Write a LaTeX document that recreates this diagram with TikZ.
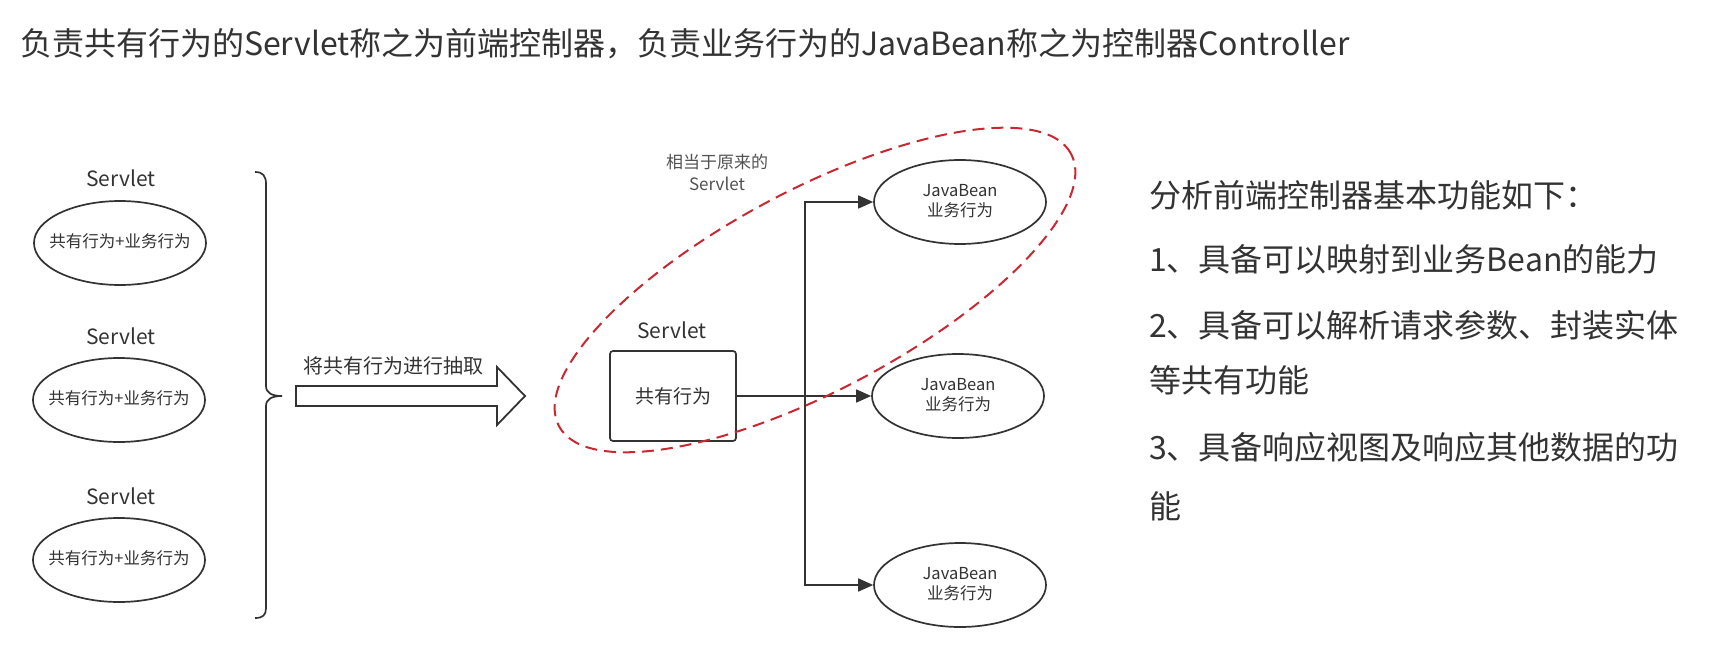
\documentclass[tikz,border=0pt]{standalone}
\usepackage{fontspec}
\setmainfont{Noto Sans CJK SC}
\usetikzlibrary{arrows.meta,shapes.geometric}
\definecolor{ink}{RGB}{51,51,51}
\definecolor{dashred}{RGB}{200,40,50}
% zero-width text box so an oval keeps its fixed size
\newcommand{\ovallabel}[1]{\makebox[0pt]{\begin{tabular}{@{}c@{}}#1\end{tabular}}}

\begin{document}
\begin{tikzpicture}[x=1pt,y=-1pt,
  every node/.style={inner sep=0pt,text=ink},
  oval/.style={draw=ink,ellipse,line width=1.7pt,minimum width=172pt,minimum height=84pt,
    font=\fontsize{16.5}{20}\selectfont},
  small/.style={font=\fontsize{21}{24}\selectfont},
  note/.style={font=\fontsize{17}{22}\selectfont,align=center,text=ink!85},
  big/.style={font=\fontsize{32}{36}\selectfont,anchor=west},
  conn/.style={draw=ink,line width=1.7pt,-{Triangle[length=15pt,width=13pt]}},
  reddash/.style={draw=dashred,line width=2pt,dash pattern=on 12pt off 7pt}
]
\fill[white] (0,0) rectangle (1716,669);
\useasboundingbox (0,0) rectangle (1716,669);

% heading
\node[big] (title) at (20,44) {负责共有行为的Servlet称之为前端控制器，负责业务行为的JavaBean称之为控制器Controller};

% three original servlets
\node[small] (s1) at (121,178) {Servlet};
\node[oval] (l1) at (120,243) {\ovallabel{共有行为+业务行为}};
\node[small] (s2) at (121,336) {Servlet};
\node[oval] (l2) at (119,400) {\ovallabel{共有行为+业务行为}};
\node[small] (s3) at (121,496) {Servlet};
\node[oval] (l3) at (119,560) {\ovallabel{共有行为+业务行为}};

% right brace grouping them
\draw[ink,line width=1.7pt]
  (255,172) .. controls (263,172) and (266,176) .. (266,184) -- (266,386)
  .. controls (266,393) and (272,396) .. (282,396)
  .. controls (272,396) and (266,399) .. (266,406) -- (266,608)
  .. controls (266,615) and (263,618) .. (255,618);

% hollow extraction arrow
\draw[ink,line width=1.8pt,line join=miter]
  (296,386) -- (497,386) -- (497,367) -- (525,396) -- (497,425) -- (497,406) -- (296,406) -- cycle;
\node[font=\fontsize{20}{24}\selectfont] (extract) at (393,366) {将共有行为进行抽取};

% front controller servlet
\node[small] (fs) at (672,330) {Servlet};
\node[draw=ink,line width=1.7pt,rounded corners=3pt,minimum width=126pt,minimum height=90pt,
      font=\fontsize{19}{22}\selectfont] (box) at (673,396) {共有行为};

% business beans
\node[oval] (jb1) at (960,202) {\ovallabel{JavaBean\\业务行为}};
\node[oval] (jb2) at (958,396) {\ovallabel{JavaBean\\业务行为}};
\node[oval] (jb3) at (960,585) {\ovallabel{JavaBean\\业务行为}};

\coordinate (split) at (805,396);
\draw[conn] (box.east) -- (jb2.west);
\draw[conn] (split) |- (jb1.west);
\draw[conn] (split) |- (jb3.west);

% dashed outline around the servlet and the first bean
\draw[reddash,rotate around={28:(815,290)}] (815,290) ellipse [x radius=290pt,y radius=100pt];
\node[note] (same) at (717,172) {相当于原来的\\Servlet};

% feature list
\node[big] (f0) at (1149,195) {分析前端控制器基本功能如下：};
\node[big] (f1) at (1149,259) {1、具备可以映射到业务Bean的能力};
\node[big] (f2) at (1149,325) {2、具备可以解析请求参数、封装实体};
\node[big] (f2b) at (1149,380) {等共有功能};
\node[big] (f3) at (1149,447) {3、具备响应视图及响应其他数据的功};
\node[big] (f3b) at (1149,506) {能};
\end{tikzpicture}
\end{document}
